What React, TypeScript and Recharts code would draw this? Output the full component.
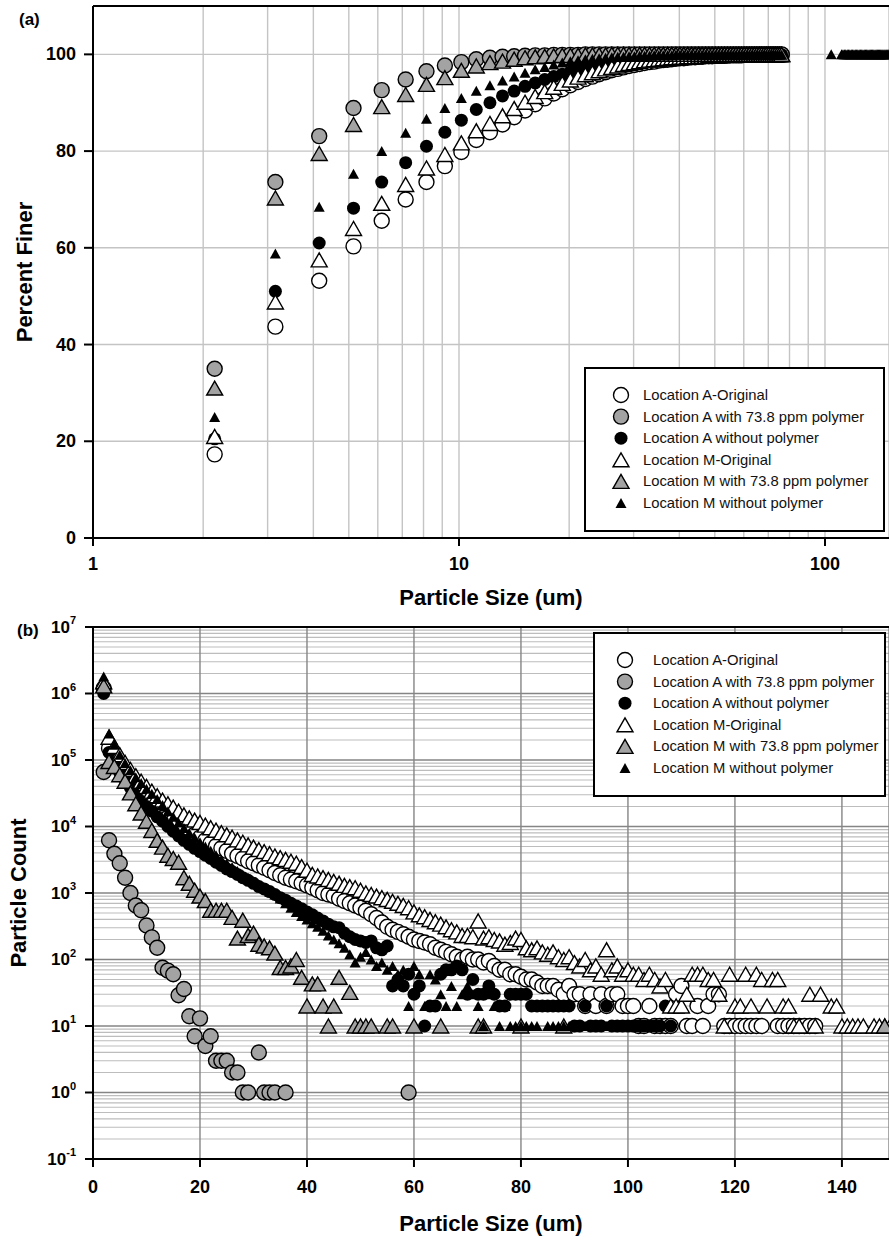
import React from "react";
import { ScatterChart, Scatter, XAxis, YAxis, CartesianGrid, ReferenceLine, Label } from "recharts";

const FONT = '"Liberation Sans", Arial, Helvetica, sans-serif';
const AXIS_LINE = { stroke: "#000", strokeWidth: 2 };
const MID_GRAY = "#a3a3a3";

// ---------- (a) percent finer ----------
const finerSizes = [
  2.15, 3.15, 4.15, 5.15, 6.15, 7.15, 8.15, 9.15, 10.15, 11.15,
  12.15, 13.15, 14.15, 15.15, 16.15, 17.15, 18.15, 19.15, 20.15, 21.15,
  22.15, 23.15, 24.15, 25.15, 26.15, 27.15, 28.15, 29.15, 30.15, 31.15,
  32.15, 33.15, 34.15, 35.15, 36.15, 37.15, 38.15, 39.15, 40.15, 41.15,
  42.15, 43.15, 44.15, 45.15, 46.15, 47.15, 48.15, 49.15, 50.15, 51.15,
  52.15, 53.15, 54.15, 55.15, 56.15, 57.15, 58.15, 59.15, 60.15, 61.15,
  62.15, 63.15, 64.15, 65.15, 66.15, 67.15, 68.15, 69.15, 70.15, 71.15,
  72.15, 73.15, 74.15, 75.15, 76.15,
];
const finerAOriginal = [
  17.3, 43.7, 53.2, 60.3, 65.6, 70.0, 73.6, 76.9, 79.8, 82.3,
  83.9, 85.5, 87.0, 88.4, 89.7, 90.9, 91.9, 92.8, 93.6, 94.3,
  94.9, 95.4, 95.9, 96.3, 96.7, 97.0, 97.3, 97.6, 97.8, 98.0,
  98.2, 98.4, 98.5, 98.7, 98.8, 98.9, 99.0, 99.1, 99.2, 99.2,
  99.3, 99.4, 99.4, 99.5, 99.5, 99.6, 99.6, 99.6, 99.7, 99.7,
  99.7, 99.7, 99.8, 99.8, 99.8, 99.8, 99.8, 99.8, 99.9, 99.9,
  99.9, 99.9, 99.9, 99.9, 99.9, 99.9, 99.9, 99.9, 99.9, 99.9,
  99.9, 99.9, 99.9, 99.9, 99.9,
];
const finerA738 = [
  35.0, 73.6, 83.1, 88.9, 92.6, 94.8, 96.5, 97.7, 98.4, 99.0,
  99.3, 99.5, 99.6, 99.7, 99.8, 99.8, 99.9, 99.9, 99.9, 99.9,
  100, 100, 100, 100, 100, 100, 100, 100, 100, 100,
  100, 100, 100, 100, 100, 100, 100, 100, 100, 100,
  100, 100, 100, 100, 100, 100, 100, 100, 100, 100,
  100, 100, 100, 100, 100, 100, 100, 100, 100, 100,
  100, 100, 100, 100, 100, 100, 100, 100, 100, 100,
  100, 100, 100, 100, 100,
];
const finerANoPolymer = [
  20.5, 51.0, 61.0, 68.2, 73.6, 77.6, 81.0, 83.9, 86.4, 88.6,
  90.0, 91.4, 92.4, 93.4, 94.1, 94.8, 95.4, 95.9, 96.4, 96.8,
  97.2, 97.5, 97.8, 98.0, 98.2, 98.4, 98.6, 98.7, 98.8, 98.9,
  99.0, 99.1, 99.2, 99.3, 99.3, 99.4, 99.4, 99.5, 99.5, 99.6,
  99.6, 99.6, 99.7, 99.7, 99.7, 99.7, 99.8, 99.8, 99.8, 99.8,
  99.8, 99.8, 99.8, 99.9, 99.9, 99.9, 99.9, 99.9, 99.9, 99.9,
  99.9, 99.9, 99.9, 99.9, 99.9, 99.9, 99.9, 99.9, 99.9, 99.9,
  99.9, 99.9, 99.9, 99.9, 99.9,
];
const finerMOriginal = [
  21.0, 48.8, 57.5, 64.0, 69.2, 73.1, 76.5, 79.3, 81.7, 84.2,
  85.7, 87.3, 88.8, 90.1, 91.3, 92.3, 93.2, 94.0, 94.7, 95.3,
  95.8, 96.2, 96.6, 97.0, 97.3, 97.6, 97.9, 98.1, 98.3, 98.5,
  98.7, 98.8, 98.9, 99.0, 99.1, 99.2, 99.3, 99.3, 99.4, 99.4,
  99.5, 99.5, 99.5, 99.6, 99.6, 99.6, 99.7, 99.7, 99.7, 99.7,
  99.7, 99.8, 99.8, 99.8, 99.8, 99.8, 99.8, 99.8, 99.8, 99.9,
  99.9, 99.9, 99.9, 99.9, 99.9, 99.9, 99.9, 99.9, 99.9, 99.9,
  99.9, 99.9, 99.9, 99.9, 99.9,
];
const finerM738 = [
  31.0, 70.3, 79.5, 85.5, 89.2, 91.7, 93.8, 95.2, 96.7, 97.6,
  98.3, 98.6, 99.0, 99.3, 99.5, 99.6, 99.7, 99.8, 99.8, 99.8,
  99.9, 99.9, 99.9, 99.9, 100, 100, 100, 100, 100, 100,
  100, 100, 100, 100, 100, 100, 100, 100, 100, 100,
  100, 100, 100, 100, 100, 100, 100, 100, 100, 100,
  100, 100, 100, 100, 100, 100, 100, 100, 100, 100,
  100, 100, 100, 100, 100, 100, 100, 100, 100, 100,
  100, 100, 100, 100, 100,
];
const finerMNoPolymer = [
  25.0, 58.8, 68.5, 75.3, 80.0, 83.8, 86.7, 88.9, 91.0, 92.5,
  93.6, 94.6, 95.4, 96.2, 96.9, 97.4, 97.9, 98.3, 98.6, 98.8,
  99.0, 99.1, 99.2, 99.3, 99.4, 99.5, 99.5, 99.6, 99.6, 99.7,
  99.7, 99.7, 99.8, 99.8, 99.8, 99.8, 99.8, 99.9, 99.9, 99.9,
  99.9, 99.9, 99.9, 99.9, 99.9, 99.9, 99.9, 99.9, 99.9, 99.9,
  99.9, 99.9, 99.9, 99.9, 99.9, 99.9, 99.9, 99.9, 99.9, 99.9,
  99.9, 99.9, 99.9, 99.9, 99.9, 99.9, 99.9, 99.9, 99.9, 99.9,
  99.9, 99.9, 99.9, 99.9, 99.9,
];
// black triangles beyond 100 um
const finerTailSizes = [
  104, 111, 112, 113, 114, 115, 116, 117, 118, 119,
  120, 121, 122, 123, 124, 125, 126, 127, 128, 129,
  130, 131, 132, 133, 134, 135, 136, 137, 138, 139,
  140, 141, 142, 143, 144, 145, 146, 147, 148, 149,
];
const finerTailMNoPolymer = [
  100, 100, 100, 100, 100, 100, 100, 100, 100, 100,
  100, 100, 100, 100, 100, 100, 100, 100, 100, 100,
  100, 100, 100, 100, 100, 100, 100, 100, 100, 100,
  100, 100, 100, 100, 100, 100, 100, 100, 100, 100,
];
const finerXTicks = [1, 2, 3, 4, 5, 6, 7, 8, 9, 10, 20, 30, 40, 50, 60, 70, 80, 90, 100];
const finerXLabels = [1, 10, 100];
const finerYTicks = [0, 20, 40, 60, 80, 100];

// ---------- (b) particle count ----------
const countSizes = [
  2, 3, 4, 5, 6, 7, 8, 9, 10, 11,
  12, 13, 14, 15, 16, 17, 18, 19, 20, 21,
  22, 23, 24, 25, 26, 27, 28, 29, 30, 31,
  32, 33, 34, 35, 36, 37, 38, 39, 40, 41,
  42, 43, 44, 45, 46, 47, 48, 49, 50, 51,
  52, 53, 54, 55, 56, 57, 58, 59, 60, 61,
  62, 63, 64, 65, 66, 67, 68, 69, 70, 71,
  72, 73, 74, 75, 76, 77, 78, 79, 80, 81,
  82, 83, 84, 85, 86, 87, 88, 89, 90, 91,
  92, 93, 94, 95, 96, 97, 98, 99, 100, 101,
  102, 103, 104, 105, 106, 107, 108, 109, 110, 111,
  112, 113, 114, 115, 116, 117, 118, 119, 120, 121,
  122, 123, 124, 125, 126, 127, 128, 129, 130, 131,
  132, 133, 134, 135, 136, 137, 138, 139, 140, 141,
  142, 143, 144, 145, 146, 147, 148, 149, 150,
];
const countAOriginal = [
  1200000, 150000, 110000, 80000, 60000, 46000, 37000, 30000, 25000, 21000,
  18000, 15500, 13500, 12000, 10500, 9300, 8300, 7500, 6800, 6200,
  5600, 5100, 4700, 4300, 3900, 3600, 3300, 3000, 2800, 2600,
  2400, 2200, 2000, 1850, 1700, 1600, 1500, 1400, 1300, 1200,
  1100, 1000, 950, 900, 820, 760, 700, 650, 600, 540,
  480, 420, 360, 310, 280, 260, 240, 220, 200, 190,
  180, 170, 150, 140, 130, 120, 110, 100, 110, 100,
  100, 90, 95, 80, 70, 70, 60, 60, 55, 50,
  50, 45, 40, 40, 40, 35, 30, 40, 30, 30,
  20, 30, 20, 30, 20, 30, 30, 20, 20, 20,
  10, 10, 20, 10, 10, 10, 10, 30, 40, 10,
  10, 20, 10, 20, 30, 30, 10, 10, 10, 10,
  10, 10, 10, 10, null, null, 10, 10, 10, 10,
  10, 10, 10, 10, null, null, null, null, null, null,
  null, null, null, null, null, null, null, null, null,
];
const countA738Sizes = [
  2, 3, 4, 5, 6, 7, 8, 9, 10, 11,
  12, 13, 14, 15, 16, 17, 18, 19, 20, 21,
  22, 23, 24, 25, 26, 27, 28, 29,
  31, 32, 33, 34, 36, 59,
];
const countA738 = [
  66000, 6200, 3900, 2800, 1700, 1000, 650, 550, 325, 215,
  150, 75, 68, 60, 29, 36, 14, 7, 13, 5,
  7, 3, 3, 3, 2, 2, 1, 1,
  4, 1, 1, 1, 1, 1,
];
const countANoPolymer = [
  1000000, 130000, 90000, 65000, 50000, 38000, 30000, 24000, 20000, 17000,
  14000, 12000, 10000, 8500, 7200, 6200, 5400, 4700, 4200, 3700,
  3300, 2900, 2600, 2300, 2100, 1900, 1700, 1550, 1400, 1250,
  1150, 1050, 950, 850, 780, 700, 640, 580, 520, 470,
  420, 380, 340, 310, 300, 250, 220, 200, 190, 180,
  190, 150, 140, 160, 40, 50, 40, 60, 30, 40,
  10, 20, 20, 60, 70, 70, 80, 70, 30, 50,
  30, 30, 40, 30, 20, 20, 30, 30, 30, 30,
  20, 20, 20, 20, 20, 20, 20, 20, 10, 10,
  20, 10, 10, 10, 20, 10, 10, 10, 10, 10,
  10, 10, 10, 10, 10, 20, 10, null, null, null,
  null, null, null, null, null, null, null, null, null, null,
  null, null, null, null, null, null, null, null, null, null,
  null, null, null, null, null, null, null, null, null, null,
  null, null, null, null, null, null, null, null, null,
];
const countMOriginal = [
  1500000, 220000, 160000, 120000, 92000, 72000, 58000, 48000, 40000, 34000,
  29000, 25000, 22000, 19500, 17000, 15000, 13500, 12500, 11500, 10500,
  9600, 8800, 8100, 7500, 6900, 6300, 5800, 5300, 4900, 4500,
  4200, 3900, 3600, 3400, 3200, 3000, 2800, 2500, 2200, 1900,
  1800, 1700, 1600, 1500, 1400, 1300, 1250, 1200, 1100, 1000,
  950, 900, 850, 800, 750, 700, 650, 600, 520, 470,
  440, 400, 370, 340, 310, 280, 260, 230, 230, 220,
  380, 210, 220, 200, 190, 170, 180, 210, 200, 150,
  140, 150, 130, 120, 130, 110, 100, 110, 90, 80,
  100, 70, 80, 60, 140, 70, 80, 60, 70, 60,
  60, 50, 60, 50, 40, 50, 20, 20, 20, 30,
  60, 60, 60, 50, 50, 30, 10, 60, 20, 20,
  60, 20, 60, 50, 20, 50, 50, 20, 20, 10,
  10, null, 30, 10, 30, null, 20, 20, 10, 10,
  10, 10, 10, null, 10, 10, 10, 10, 10,
];
const countM738Sizes = [
  2, 3, 4, 5, 6, 7, 8, 9, 10, 11,
  12, 13, 14, 15, 16, 17, 18, 19, 20, 21,
  22, 23, 24, 25, 26, 27, 28, 29, 30, 31,
  32, 33, 34, 35, 36, 37, 38, 39, 40, 41,
  42, 43, 44, 45, 46,
  48, 49, 50, 51, 52, 55, 56, 60, 65, 72, 73, 80, 88, 148,
];
const countM738 = [
  1300000, 95000, 80000, 60000, 48000, 32000, 22000, 16000, 12000, 8700,
  6200, 4900, 3700, 3300, 2900, 1700, 1400, 1100, 900, 770,
  550, 550, 550, 550, 430, 210, 390, 230, 250, 170,
  160, 150, 125, 76, 76, 80, 100, 54, 20, 43,
  43, 20, 10, 20, 54,
  32, 10, 10, 10, 10, 10, 10, 10, 10, 10, 10, 10, 10, 10,
];
const countMNoPolymer = [
  1800000, 250000, 170000, 120000, 90000, 70000, 55000, 45000, 37000, 31000,
  26000, 21000, 17000, 14000, 11500, 9500, 8000, 6800, 5800, 5000,
  4300, 3700, 3200, 2800, 2450, 2150, 1900, 1700, 1500, 1350,
  1200, 1050, 950, 830, 700, 600, 520, 450, 400, 350,
  310, 270, 230, 200, 175, 150, 120, 90, 110, 130,
  100, 80, 90, 70, 80, 60, 70, 20, 80, 60,
  20, 60, 50, 30, 20, 40, 20, 30, 40, 30,
  20, 10, 30, 20, 10, 20, 10, 10, 10, 10,
  10, 10, 20, 10, 10, 10, 10, 10, 10, 10,
  10, 10, 10, 10, 10, 10, 10, 10, 10, null,
  null, null, null, null, null, null, null, null, null, null,
  null, null, null, null, null, null, null, null, null, null,
  null, null, null, null, null, null, null, null, null, null,
  null, null, null, null, null, null, null, null, null, null,
  null, null, null, null, null, null, null, null, null,
];
const countXTicks = [0, 20, 40, 60, 80, 100, 120, 140];
const countDecades = [0.1, 1, 10, 100, 1000, 1e4, 1e5, 1e6, 1e7];
const countMinorTicks = [
  0.2, 0.3, 0.4, 0.5, 0.6, 0.7, 0.8, 0.9,
  2, 3, 4, 5, 6, 7, 8, 9,
  20, 30, 40, 50, 60, 70, 80, 90,
  200, 300, 400, 500, 600, 700, 800, 900,
  2000, 3000, 4000, 5000, 6000, 7000, 8000, 9000,
  2e4, 3e4, 4e4, 5e4, 6e4, 7e4, 8e4, 9e4,
  2e5, 3e5, 4e5, 5e5, 6e5, 7e5, 8e5, 9e5,
  2e6, 3e6, 4e6, 5e6, 6e6, 7e6, 8e6, 9e6,
];

// ---------- markers ----------
type MarkerStyle = {
  name: string;
  kind: "circle" | "triangle";
  fill: string;
  outline: boolean;
  w: number;
  h: number;
};

const seriesStyles: MarkerStyle[] = [
  { name: "Location A-Original", kind: "circle", fill: "#ffffff", outline: true, w: 15, h: 15 },
  { name: "Location A with 73.8 ppm polymer", kind: "circle", fill: MID_GRAY, outline: true, w: 15, h: 15 },
  { name: "Location A without polymer", kind: "circle", fill: "#000000", outline: false, w: 13, h: 13 },
  { name: "Location M-Original", kind: "triangle", fill: "#ffffff", outline: true, w: 16, h: 14 },
  { name: "Location M with 73.8 ppm polymer", kind: "triangle", fill: MID_GRAY, outline: true, w: 16, h: 14 },
  { name: "Location M without polymer", kind: "triangle", fill: "#000000", outline: false, w: 11, h: 10 },
];

function Marker({ cx, cy, s }: { cx: number; cy: number; s: MarkerStyle }) {
  if (cx == null || cy == null || isNaN(cx) || isNaN(cy)) return null;
  const stroke = s.outline ? "#000" : "none";
  if (s.kind === "circle") {
    return <circle cx={cx} cy={cy} r={s.w / 2} fill={s.fill} stroke={stroke} strokeWidth={1.4} />;
  }
  const pts = `${cx},${cy - s.h / 2} ${cx - s.w / 2},${cy + s.h / 2} ${cx + s.w / 2},${cy + s.h / 2}`;
  return <polygon points={pts} fill={s.fill} stroke={stroke} strokeWidth={1.4} />;
}

type Pt = { x: number; y: number };
function toPoints(xs: number[], ys: (number | null)[]): Pt[] {
  const out: Pt[] = [];
  xs.forEach((x, i) => {
    const y = ys[i];
    if (y != null) out.push({ x, y });
  });
  return out;
}

const finerSeries = [
  toPoints(finerSizes, finerAOriginal),
  toPoints(finerSizes, finerA738),
  toPoints(finerSizes, finerANoPolymer),
  toPoints(finerSizes, finerMOriginal),
  toPoints(finerSizes, finerM738),
  [...toPoints(finerSizes, finerMNoPolymer), ...toPoints(finerTailSizes, finerTailMNoPolymer)],
];

const countSeries = [
  toPoints(countSizes, countAOriginal),
  toPoints(countA738Sizes, countA738),
  toPoints(countSizes, countANoPolymer),
  toPoints(countSizes, countMOriginal),
  toPoints(countM738Sizes, countM738),
  toPoints(countSizes, countMNoPolymer),
];

// ---------- ticks & titles ----------
const tickText = { fontFamily: FONT, fontWeight: 700, fontSize: 18, fill: "#000" };
const titleText = { fontFamily: FONT, fontWeight: 700, fontSize: 22, fill: "#000" };

function finerXTick(props: any) {
  const { x, y, payload } = props;
  if (!finerXLabels.includes(payload.value)) return <g />;
  return (
    <g>
      <line x1={x} x2={x} y1={y} y2={y + 8} stroke="#000" strokeWidth={2} />
      <text x={x} y={y + 26} textAnchor="middle" dominantBaseline="central" {...tickText}>
        {payload.value}
      </text>
    </g>
  );
}

function finerYTick(props: any) {
  const { x, y, payload } = props;
  return (
    <g>
      <line x1={x - 9} x2={x} y1={y} y2={y} stroke="#000" strokeWidth={2} />
      <text x={x - 17} y={y} textAnchor="end" dominantBaseline="central" {...tickText}>
        {payload.value}
      </text>
    </g>
  );
}

function countXTick(props: any) {
  const { x, y, payload } = props;
  return (
    <g>
      <line x1={x} x2={x} y1={y} y2={y + 8} stroke="#000" strokeWidth={2} />
      <text x={x} y={y + 28} textAnchor="middle" dominantBaseline="central" {...tickText}>
        {payload.value}
      </text>
    </g>
  );
}

function countYTick(props: any) {
  const { x, y, payload } = props;
  const exp = Math.round(Math.log10(payload.value));
  return (
    <g>
      <line x1={x - 8} x2={x} y1={y} y2={y} stroke="#000" strokeWidth={2} />
      <text x={x - 17} y={y} textAnchor="end" dominantBaseline="central" {...tickText} fontSize={17}>
        10
        <tspan dy={-7} fontSize={11}>
          {exp}
        </tspan>
      </text>
    </g>
  );
}

const xTitle = (offset: number) => (props: any) => {
  const vb = props.viewBox || { x: 93, y: 538, width: 796, height: 82 };
  const cx = vb.x + vb.width / 2;
  return (
    <text x={cx} y={vb.y + offset} textAnchor="middle" dominantBaseline="central" {...titleText}>
      Particle Size (um)
    </text>
  );
};

const yTitle = (text: string, cx: number) => (props: any) => {
  const vb = props.viewBox || { x: 0, y: 6, width: 93, height: 532 };
  const cy = vb.y + vb.height / 2;
  return (
    <text
      x={cx}
      y={cy}
      transform={`rotate(-90 ${cx} ${cy})`}
      textAnchor="middle"
      dominantBaseline="central"
      {...titleText}
    >
      {text}
    </text>
  );
};

// ---------- panels ----------
function FinerChart() {
  return (
    <ScatterChart width={889} height={620} margin={{ top: 6, right: 0, bottom: 0, left: 0 }}>
      <CartesianGrid stroke="#c4c4c4" strokeWidth={1.4} />
      <XAxis
        type="number"
        dataKey="x"
        scale="log"
        domain={[1, 149.6]}
        allowDataOverflow
        ticks={finerXTicks}
        interval={0}
        height={82}
        axisLine={AXIS_LINE}
        tickLine={false}
        tickSize={0}
        tickMargin={0}
        tick={finerXTick}
      >
        <Label content={xTitle(59)} />
      </XAxis>
      <YAxis
        type="number"
        dataKey="y"
        domain={[0, 110]}
        allowDataOverflow
        ticks={finerYTicks}
        interval={0}
        width={93}
        axisLine={AXIS_LINE}
        tickLine={false}
        tickSize={0}
        tickMargin={0}
        tick={finerYTick}
      >
        <Label content={yTitle("Percent Finer", 24)} />
      </YAxis>
      <ReferenceLine y={110} stroke="#000" strokeWidth={2} />
      {seriesStyles.map((s, i) => (
        <Scatter
          key={s.name}
          name={s.name}
          data={finerSeries[i]}
          isAnimationActive={false}
          shape={(p: any) => <Marker cx={p.cx} cy={p.cy} s={s} />}
        />
      ))}
    </ScatterChart>
  );
}

function CountChart() {
  return (
    <ScatterChart width={889} height={640} margin={{ top: 27, right: 0, bottom: 0, left: 0 }}>
      <CartesianGrid yAxisId="minor" vertical={false} stroke="#bdbdbd" strokeWidth={1.2} />
      <CartesianGrid yAxisId="major" stroke="#858585" strokeWidth={1.4} />
      <XAxis
        type="number"
        dataKey="x"
        domain={[0, 148.8]}
        allowDataOverflow
        ticks={countXTicks}
        interval={0}
        height={81}
        axisLine={AXIS_LINE}
        tickLine={false}
        tickSize={0}
        tickMargin={0}
        tick={countXTick}
      >
        <Label content={xTitle(64)} />
      </XAxis>
      <YAxis
        yAxisId="major"
        type="number"
        dataKey="y"
        scale="log"
        domain={[0.1, 1e7]}
        allowDataOverflow
        ticks={countDecades}
        interval={0}
        width={93}
        axisLine={AXIS_LINE}
        tickLine={false}
        tickSize={0}
        tickMargin={0}
        tick={countYTick}
      >
        <Label content={yTitle("Particle Count", 18)} />
      </YAxis>
      <YAxis
        yAxisId="minor"
        type="number"
        dataKey="y"
        scale="log"
        domain={[0.1, 1e7]}
        allowDataOverflow
        ticks={countMinorTicks}
        interval={0}
        hide
      />
      <ReferenceLine yAxisId="major" y={1e7} stroke="#000" strokeWidth={2} />
      {seriesStyles.map((s, i) => (
        <Scatter
          key={s.name}
          name={s.name}
          yAxisId="major"
          data={countSeries[i]}
          isAnimationActive={false}
          shape={(p: any) => <Marker cx={p.cx} cy={p.cy} s={s} />}
        />
      ))}
    </ScatterChart>
  );
}

function LegendBox({ left, top, width, markerX, textX }: { left: number; top: number; width: number; markerX: number; textX: number }) {
  const height = 165;
  return (
    <svg style={{ position: "absolute", left, top }} width={width} height={height}>
      <rect x={1} y={1} width={width - 2} height={height - 2} fill="#fff" stroke="#000" strokeWidth={2} />
      {seriesStyles.map((s, i) => {
        const cy = 28 + i * 21.6;
        return (
          <g key={s.name}>
            <Marker cx={markerX} cy={cy} s={s} />
            <text x={textX} y={cy} dominantBaseline="central" fontFamily={FONT} fontSize={14.8} fill="#111">
              {s.name}
            </text>
          </g>
        );
      })}
    </svg>
  );
}

function PanelTag({ text, left, top }: { text: string; left: number; top: number }) {
  return (
    <div
      style={{
        position: "absolute",
        left,
        top,
        transform: "translateY(-50%)",
        fontFamily: FONT,
        fontWeight: 700,
        fontSize: 17,
        lineHeight: "20px",
      }}
    >
      {text}
    </div>
  );
}

export default function App() {
  return (
    <div style={{ position: "relative", width: 889, height: 1240, background: "#fff", overflow: "hidden" }}>
      <style>{"body{margin:0}"}</style>
      <div style={{ position: "absolute", left: 0, top: 0 }}>
        <FinerChart />
      </div>
      <div style={{ position: "absolute", left: 0, top: 600 }}>
        <CountChart />
      </div>
      <LegendBox left={584} top={367} width={301} markerX={37} textX={59} />
      <LegendBox left={593} top={632} width={293} markerX={32} textX={60} />
      <PanelTag text="(a)" left={19} top={20} />
      <PanelTag text="(b)" left={17} top={631} />
    </div>
  );
}
